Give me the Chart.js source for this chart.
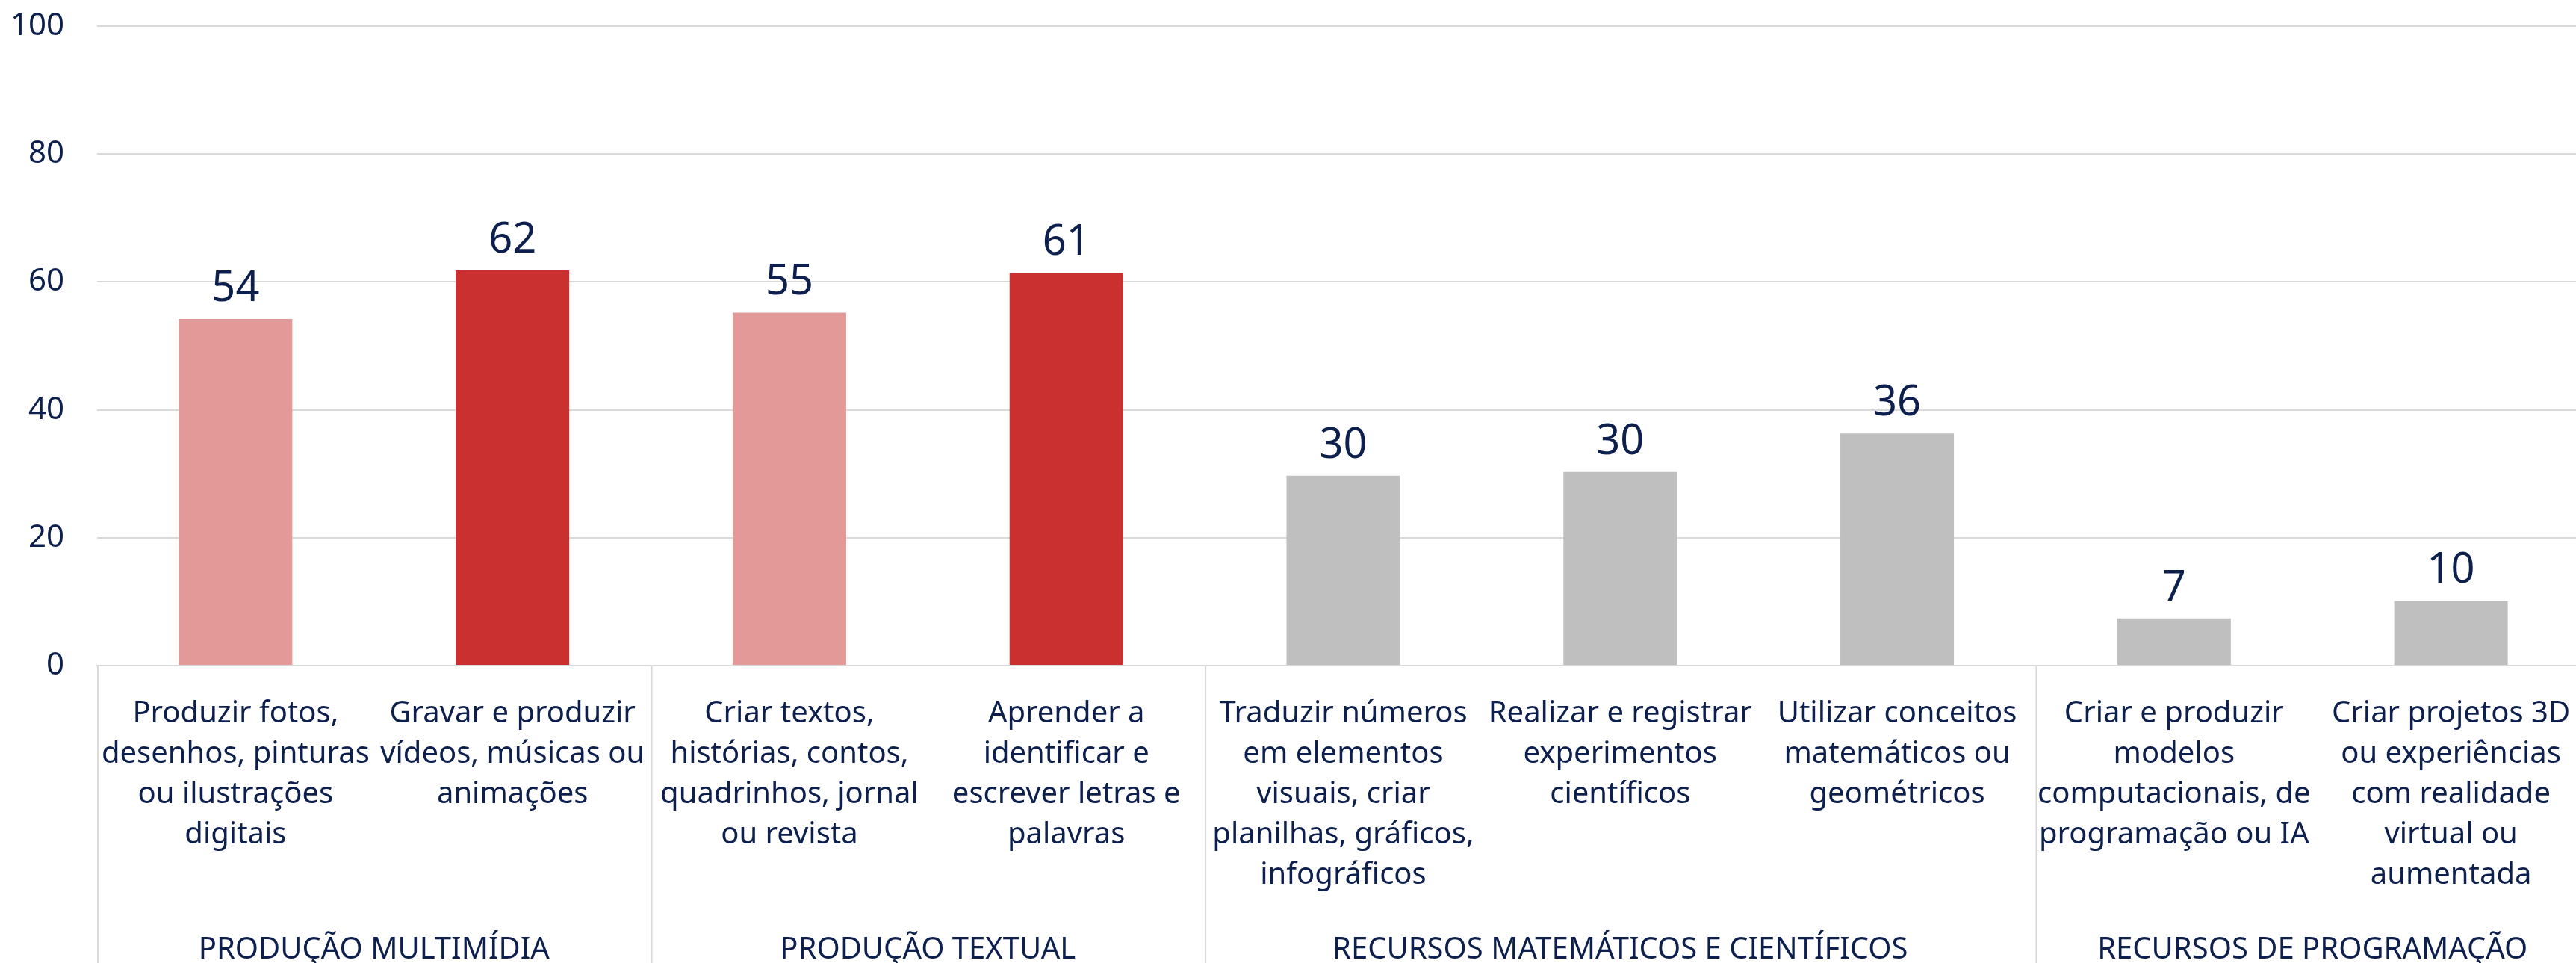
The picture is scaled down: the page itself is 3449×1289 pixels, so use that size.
<!DOCTYPE html>
<html>
<head>
<meta charset="utf-8">
<script src="https://cdn.jsdelivr.net/npm/chart.js@4/dist/chart.umd.min.js"></script>
<style>
  html, body { margin: 0; padding: 0; background: #fff; }
  #wrap { width: 3449px; height: 1289px; }
</style>
</head>
<body>
<div id="wrap"><canvas id="grafico" width="3449" height="1289"></canvas></div>
<script>
const categorias = [
    ['Produzir fotos,', 'desenhos, pinturas', 'ou ilustrações', 'digitais'],
    ['Gravar e produzir', 'vídeos, músicas ou', 'animações'],
    ['Criar textos,', 'histórias, contos,', 'quadrinhos, jornal', 'ou revista'],
    ['Aprender a', 'identificar e', 'escrever letras e', 'palavras'],
    ['Traduzir números', 'em elementos', 'visuais, criar', 'planilhas, gráficos,', 'infográficos'],
    ['Realizar e registrar', 'experimentos', 'científicos'],
    ['Utilizar conceitos', 'matemáticos ou', 'geométricos'],
    ['Criar e produzir', 'modelos', 'computacionais, de', 'programação ou IA'],
    ['Criar projetos 3D', 'ou experiências', 'com realidade', 'virtual ou', 'aumentada']
];
const valores = [54.2, 61.8, 55.2, 61.4, 29.7, 30.3, 36.3, 7.4, 10.1];
const cores = ['#e49999', '#c9302f', '#e49999', '#c9302f', '#bfbfbf', '#bfbfbf', '#bfbfbf', '#bfbfbf', '#bfbfbf'];
const grupos = ['PRODUÇÃO MULTIMÍDIA', 'PRODUÇÃO TEXTUAL', 'RECURSOS MATEMÁTICOS E CIENTÍFICOS', 'RECURSOS DE PROGRAMAÇÃO'];
const tamanhosGrupos = [2, 2, 3, 2];
const ticksY = [0, 20, 40, 60, 80, 100];

const corTexto = '#0d1f4c';
const fonte = '"Noto Sans", "Open Sans", sans-serif';

// a área do gráfico continua um pouco além da borda direita
const alargarDireita = {
    id: 'alargarDireita',
    afterLayout(chart) {
        const extra = 18;
        const x = chart.scales.x;
        chart.chartArea.right += extra;
        chart.chartArea.width += extra;
        x.right += extra;
        x.width += extra;
        x.configure();
        const y = chart.scales.y;
        y.configure();
    }
};

// rótulos de valor por cima das barras
const rotulosBarras = {
    id: 'rotulosBarras',
    afterDatasetsDraw(chart) {
        const ctx = chart.ctx;
        const meta = chart.getDatasetMeta(0);
        ctx.save();
        ctx.font = '56px ' + fonte;
        ctx.fillStyle = corTexto;
        ctx.textAlign = 'center';
        ctx.textBaseline = 'bottom';
        meta.data.forEach((barra, i) => {
            ctx.fillText(Math.round(valores[i]), barra.x, barra.y - 12);
        });
        ctx.restore();
    }
};

// segundo nível do eixo x: grupos e separadores
const gruposEixo = {
    id: 'gruposEixo',
    afterDraw(chart) {
        const ctx = chart.ctx;
        const x = chart.scales.x;
        const base = chart.chartArea.bottom;
        const meio = (x.getPixelForValue(1) - x.getPixelForValue(0)) / 2;
        let inicio = 0;
        ctx.save();
        ctx.strokeStyle = '#d9d9d9';
        ctx.lineWidth = 2;
        ctx.font = '40px ' + fonte;
        ctx.fillStyle = corTexto;
        ctx.textAlign = 'center';
        ctx.textBaseline = 'middle';
        grupos.forEach((g, gi) => {
            const n = tamanhosGrupos[gi];
            const esq = x.getPixelForValue(inicio) - meio;
            const dir = x.getPixelForValue(inicio + n - 1) + meio;
            ctx.beginPath();
            ctx.moveTo(esq + 1, base);
            ctx.lineTo(esq + 1, chart.height);
            ctx.stroke();
            ctx.fillText(g, (esq + dir) / 2, 1272);
            inicio += n;
        });
        ctx.restore();
    }
};

new Chart(document.getElementById('grafico'), {
    type: 'bar',
    data: {
        labels: categorias,
        datasets: [{
            data: valores,
            backgroundColor: cores,
            categoryPercentage: 1,
            barPercentage: 0.41
        }]
    },
    options: {
        responsive: false,
        animation: false,
        layout: { padding: { top: 35, right: 0, left: 0, bottom: 0 } },
        plugins: {
            legend: { display: false },
            tooltip: { enabled: false }
        },
        scales: {
            x: {
                grid: { display: false },
                border: { display: true, color: '#d9d9d9', width: 2 },
                ticks: {
                    color: corTexto,
                    font: { family: fonte, size: 40, lineHeight: 1.35 },
                    padding: 30,
                    maxRotation: 0,
                    autoSkip: false
                },
                afterFit(escala) {
                    escala.height = 1289 - 891;
                    escala.paddingLeft = 0;
                    escala.paddingRight = 0;
                }
            },
            y: {
                min: 0,
                max: 100,
                afterBuildTicks(escala) { escala.ticks = ticksY.map(v => ({ value: v })); },
                grid: { color: '#d9d9d9', lineWidth: 2, drawTicks: false },
                border: { display: false },
                ticks: {
                    color: corTexto,
                    font: { family: fonte, size: 42 },
                    padding: 44
                },
                afterFit(escala) {
                    escala.width = 130;
                    escala.paddingTop = 0;
                    escala.paddingBottom = 0;
                }
            }
        }
    },
    plugins: [alargarDireita, rotulosBarras, gruposEixo]
});
</script>
</body>
</html>
